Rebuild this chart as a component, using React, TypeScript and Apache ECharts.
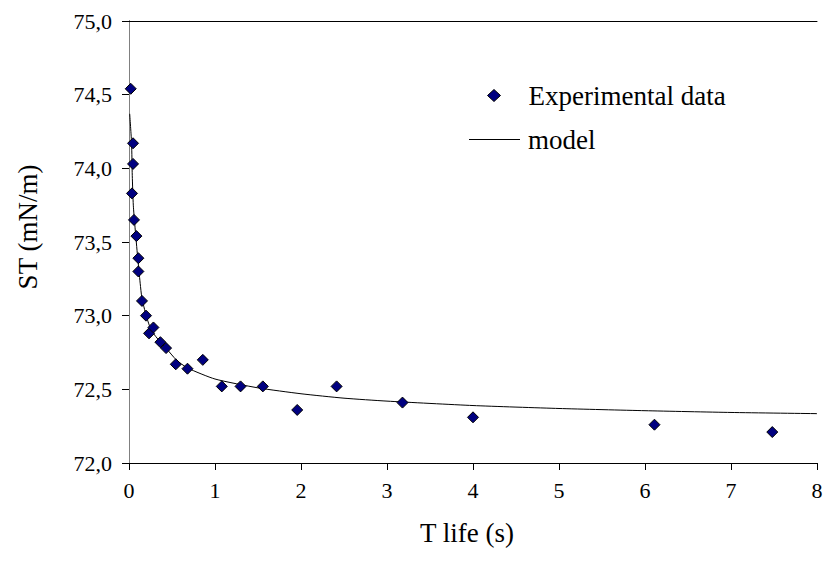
import React, { useEffect, useRef } from "react";
import * as echarts from "echarts";

// Measured surface tension against bubble lifetime
const lifeTimes = [
  0.02, 0.047, 0.047, 0.035, 0.058, 0.086, 0.109, 0.109, 0.151, 0.198, 0.233,
  0.284, 0.365, 0.431, 0.544, 0.68, 0.858, 1.079, 1.297, 1.556, 1.956, 2.414,
  3.18, 4.0, 6.11, 7.48,
];
const surfaceTension = [
  74.54, 74.17, 74.03, 73.83, 73.65, 73.54, 73.39, 73.3, 73.1, 73.0, 72.88,
  72.92, 72.82, 72.78, 72.67, 72.64, 72.7, 72.52, 72.52, 72.52, 72.36, 72.52,
  72.41, 72.31, 72.26, 72.21,
];

// Fitted model curve
const modelTimes = [
  0.008, 0.03, 0.038, 0.05, 0.07, 0.1, 0.13, 0.15, 0.2, 0.26, 0.365, 0.43,
  0.55, 0.68, 1.0, 1.5, 2.0, 2.5, 3.0, 4.0, 5.0, 6.0, 7.0, 8.0,
];
const modelValues = [
  74.37, 74.17, 73.95, 73.75, 73.6, 73.4, 73.22, 73.12, 73.0, 72.9, 72.82,
  72.78, 72.7, 72.645, 72.57, 72.51, 72.47, 72.44, 72.42, 72.39, 72.37,
  72.355, 72.343, 72.335,
];

const seriesNames = ["Experimental data", "model"];
const xTitle = "T life (s)";
const yTitle = "ST (mN/m)";

const FONT = "Liberation Serif, Times New Roman, serif";

export default function App() {
  const ref = useRef<HTMLDivElement>(null);

  useEffect(() => {
    if (!ref.current) return;
    const chart = echarts.init(ref.current, undefined, { renderer: "svg" });
    const scatterData = lifeTimes.map((t, i) => [t, surfaceTension[i]]);
    const modelData = modelTimes.map((t, i) => [t, modelValues[i]]);

    const legendText = { fontFamily: FONT, fontSize: 27, color: "#000" };

    chart.setOption({
      animation: false,
      backgroundColor: "#ffffff",
      textStyle: { fontFamily: FONT, color: "#000" },
      grid: {
        left: 129,
        right: 7,
        top: 21,
        bottom: 102,
        containLabel: false,
        outerBoundsMode: "none",
      },
      legend: [
        {
          orient: "vertical",
          left: 487,
          top: 82,
          padding: 0,
          itemWidth: 13,
          itemHeight: 12,
          textStyle: { ...legendText, padding: [0, 0, 0, 23] },
          data: [
            {
              name: seriesNames[0],
              icon: "diamond",
              itemStyle: { color: "#000080", borderColor: "#000", borderWidth: 1 },
            },
          ],
        },
        {
          orient: "vertical",
          left: 469,
          top: 126,
          padding: 0,
          itemWidth: 51,
          itemHeight: 1,
          textStyle: { ...legendText, padding: [0, 0, 0, 3] },
          data: [
            {
              name: seriesNames[1],
              icon: "rect",
              itemStyle: { color: "#000", borderWidth: 0 },
            },
          ],
        },
      ],
      xAxis: [
        {
          type: "value",
          min: 0,
          max: 8,
          interval: 1,
          name: xTitle,
          nameLocation: "middle",
          nameGap: 56,
          nameTextStyle: {
            fontFamily: FONT,
            fontSize: 27,
            color: "#000",
            padding: [0, 12, 0, 0],
          },
          axisLine: { lineStyle: { color: "#000", width: 1 } },
          axisTick: { show: true, inside: false, length: 7, lineStyle: { color: "#000" } },
          axisLabel: {
            fontFamily: FONT,
            fontSize: 22,
            color: "#000",
            margin: 16,
            showMinLabel: true,
            showMaxLabel: true,
          },
          splitLine: { show: false },
        },
        {
          type: "value",
          position: "top",
          min: 0,
          max: 8,
          axisLine: { show: true, lineStyle: { color: "#000", width: 1 } },
          axisTick: { show: false },
          axisLabel: { show: false },
          splitLine: { show: false },
        },
      ],
      yAxis: [
        {
          type: "value",
          min: 72,
          max: 75,
          interval: 0.5,
          name: yTitle,
          nameLocation: "middle",
          nameGap: 88,
          nameRotate: 90,
          nameTextStyle: {
            fontFamily: FONT,
            fontSize: 27,
            color: "#000",
            padding: [0, 0, 0, 30],
          },
          axisLine: { show: true, lineStyle: { color: "#000", width: 1 } },
          axisTick: { show: true, inside: false, length: 7, lineStyle: { color: "#000" } },
          axisLabel: {
            fontFamily: FONT,
            fontSize: 22,
            color: "#000",
            margin: 17,
            showMinLabel: true,
            showMaxLabel: true,
            formatter: (v: number) => v.toFixed(1).replace(".", ","),
          },
          splitLine: { show: false },
        },
        {
          type: "value",
          position: "right",
          min: 72,
          max: 75,
          axisLine: { show: true, lineStyle: { color: "#808080", width: 1 } },
          axisTick: { show: false },
          axisLabel: { show: false },
          splitLine: { show: false },
        },
      ],
      series: [
        {
          name: seriesNames[1],
          type: "line",
          data: modelData,
          showSymbol: false,
          symbol: "none",
          smooth: 0.2,
          lineStyle: { color: "#000", width: 1 },
          itemStyle: { color: "#000" },
          z: 2,
        },
        {
          name: seriesNames[0],
          type: "scatter",
          data: scatterData,
          symbol: "diamond",
          symbolSize: 11,
          itemStyle: { color: "#000080", borderColor: "#000", borderWidth: 1, opacity: 1 },
          z: 3,
        },
      ],
    });

    return () => chart.dispose();
  }, []);

  // Pin the chart to the page's top-left corner, clear of the body margin
  return (
    <div
      ref={ref}
      style={{ position: "absolute", left: 0, top: 0, width: 824, height: 565 }}
    />
  );
}
